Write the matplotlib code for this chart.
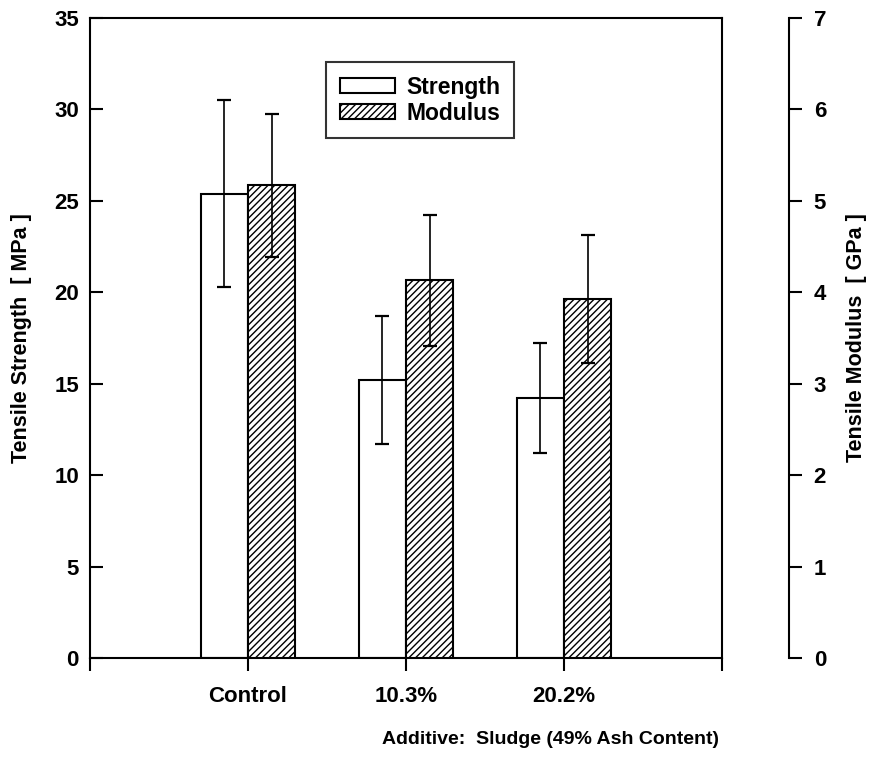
import matplotlib
matplotlib.use("Agg")
import matplotlib.pyplot as plt
import numpy as np

categories = ["Control", "10.3%", "20.2%"]
strength = [25.4, 15.2, 14.2]          # MPa
strength_err = [5.1, 3.5, 3.0]
modulus = [5.17, 4.13, 3.93]           # GPa
modulus_err = [0.78, 0.72, 0.70]
left_ticks = [0, 5, 10, 15, 20, 25, 30, 35]
right_ticks = [0, 1, 2, 3, 4, 5, 6, 7]

plt.rcParams['font.family'] = ['Liberation Sans', 'DejaVu Sans']
plt.rcParams['hatch.linewidth'] = 1.0
plt.rcParams['hatch.color'] = 'black'

W, H = 886, 776
fig = plt.figure(figsize=(W / 100, H / 100), dpi=100)
ax = fig.add_axes([90 / W, 1 - 658 / H, (722 - 90) / W, (658 - 18) / H])
ax2 = ax.twinx()

x = np.arange(1, len(categories) + 1)
bw = 0.3
lw = 1.5

ax.bar(x - bw / 2, strength, width=bw, color='white', edgecolor='black',
       linewidth=lw, label='Strength', zorder=2)
ax.errorbar(x - bw / 2, strength, yerr=strength_err, fmt='none', ecolor='black',
            elinewidth=1.2, capsize=5, capthick=1.6, zorder=3)

ax2.bar(x + bw / 2, modulus, width=bw, color='white', edgecolor='black',
        linewidth=lw, hatch='/////', label='Modulus', zorder=2)
ax2.errorbar(x + bw / 2, modulus, yerr=modulus_err, fmt='none', ecolor='black',
             elinewidth=1.2, capsize=5, capthick=1.6, zorder=3)

ax.set_xlim(0, 4)
ax.set_ylim(0, 35)
ax2.set_ylim(0, 7)

fs = 16
ax.set_xticks([0, 1, 2, 3, 4])
ax.set_xticklabels([''] + categories + [''], fontsize=fs, fontweight='bold')
ax.set_yticks(left_ticks)
ax.set_yticklabels([str(t) for t in left_ticks], fontsize=fs, fontweight='bold')
ax.tick_params(axis='x', direction='out', length=9, width=1.5, pad=11)
ax.tick_params(axis='y', direction='in', length=9, width=1.5, pad=8)

for s in ax.spines.values():
    s.set_linewidth(1.5)

ax2.spines['right'].set_position(('outward', 48))
for k in ['left', 'top', 'bottom']:
    ax2.spines[k].set_visible(False)
ax2.spines['right'].set_linewidth(1.5)
ax2.set_yticks(right_ticks)
ax2.set_yticklabels([str(t) for t in right_ticks], fontsize=fs, fontweight='bold')
ax2.tick_params(axis='y', direction='out', length=9, width=1.5, pad=9)

ax.set_ylabel('Tensile Strength  [ MPa ]', fontsize=15.5, fontweight='bold', labelpad=16)
ax2.set_ylabel('Tensile Modulus  [ GPa ]', fontsize=15.5, fontweight='bold', labelpad=14)

fig.text(550 / W, 1 - 740 / H, 'Additive:  Sludge (49% Ash Content)',
         fontsize=14, fontweight='bold', ha='center', va='center')

h1, l1 = ax.get_legend_handles_labels()
h2, l2 = ax2.get_legend_handles_labels()
leg = ax2.legend(h1 + h2, l1 + l2, loc='upper center', bbox_to_anchor=(0.522, 0.931),
                 prop={'size': 16.5, 'weight': 'bold'}, frameon=True, fancybox=False,
                 edgecolor='black', handlelength=2.4, handleheight=0.62,
                 borderpad=0.6, labelspacing=0.12, handletextpad=0.5,
                 borderaxespad=0)
leg.get_frame().set_linewidth(1.5)

fig.savefig('out.png', dpi=100)
